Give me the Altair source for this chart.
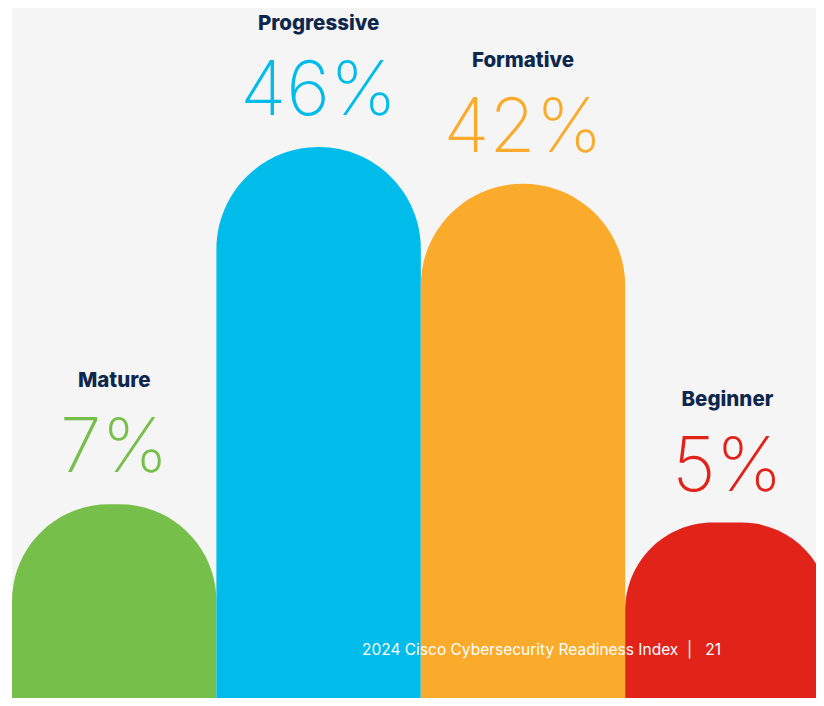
import altair as alt
import pandas as pd

categories = ["Mature", "Progressive", "Formative", "Beginner"]
values = [7, 46, 42, 5]
labels = ["7%", "46%", "42%", "5%"]
colors = ["#77bf4b", "#00bceb", "#fbab2c", "#e2231a"]
positions = [0, 1, 2, 3]
footer = "2024 Cisco Cybersecurity Readiness Index\u00a0\u00a0|\u00a0\u00a0 21"

Y_MIN, Y_MAX = -14.15, 61.18
X_MAX = 804 / 204.4

df = pd.DataFrame({
    "category": categories,
    "value": values,
    "label": labels,
    "x0": positions,
    "x1": [p + 1 for p in positions],
    "xc": [p + 0.5 for p in positions],
    "base": [Y_MIN] * len(categories),
})

xs = alt.Scale(domain=[0, X_MAX], nice=False, zero=False)
ys = alt.Scale(domain=[Y_MIN, Y_MAX], nice=False, zero=False)
color = alt.Color("category:N", scale=alt.Scale(domain=categories, range=colors), legend=None)

base = alt.Chart(df)

bars = base.mark_bar(cornerRadiusTopLeft=102, cornerRadiusTopRight=102, clip=True).encode(
    x=alt.X("x0:Q", scale=xs, axis=None),
    x2="x1:Q",
    y=alt.Y("value:Q", scale=ys, axis=None),
    y2="base:Q",
    color=color,
)

pct = base.mark_text(font="Inter", fontWeight=200, fontSize=75, baseline="alphabetic",
                     align="center", dy=-32).encode(
    x=alt.X("xc:Q", scale=xs),
    y=alt.Y("value:Q", scale=ys),
    text="label:N",
    color=color,
)

names = base.mark_text(font="Inter", fontWeight=800, fontSize=20.5, baseline="alphabetic",
                       align="center", dy=-117, color="#0d274d").encode(
    x=alt.X("xc:Q", scale=xs),
    y=alt.Y("value:Q", scale=ys),
    text="category:N",
)

foot = alt.Chart(pd.DataFrame({"t": [footer]})).mark_text(
    font="Inter", fontSize=15.5, color="white", align="right", baseline="alphabetic"
).encode(x=alt.value(709), y=alt.value(647.3), text="t:N")

chart = alt.layer(bars, pct, names, foot).properties(
    width=804, height=690,
    padding={"left": 4, "top": 0, "right": 0, "bottom": 0},
    background="white",
).configure_view(stroke=None, fill="#f5f5f5")

chart.save("out.html", embed_options={"renderer": "svg", "actions": False})
